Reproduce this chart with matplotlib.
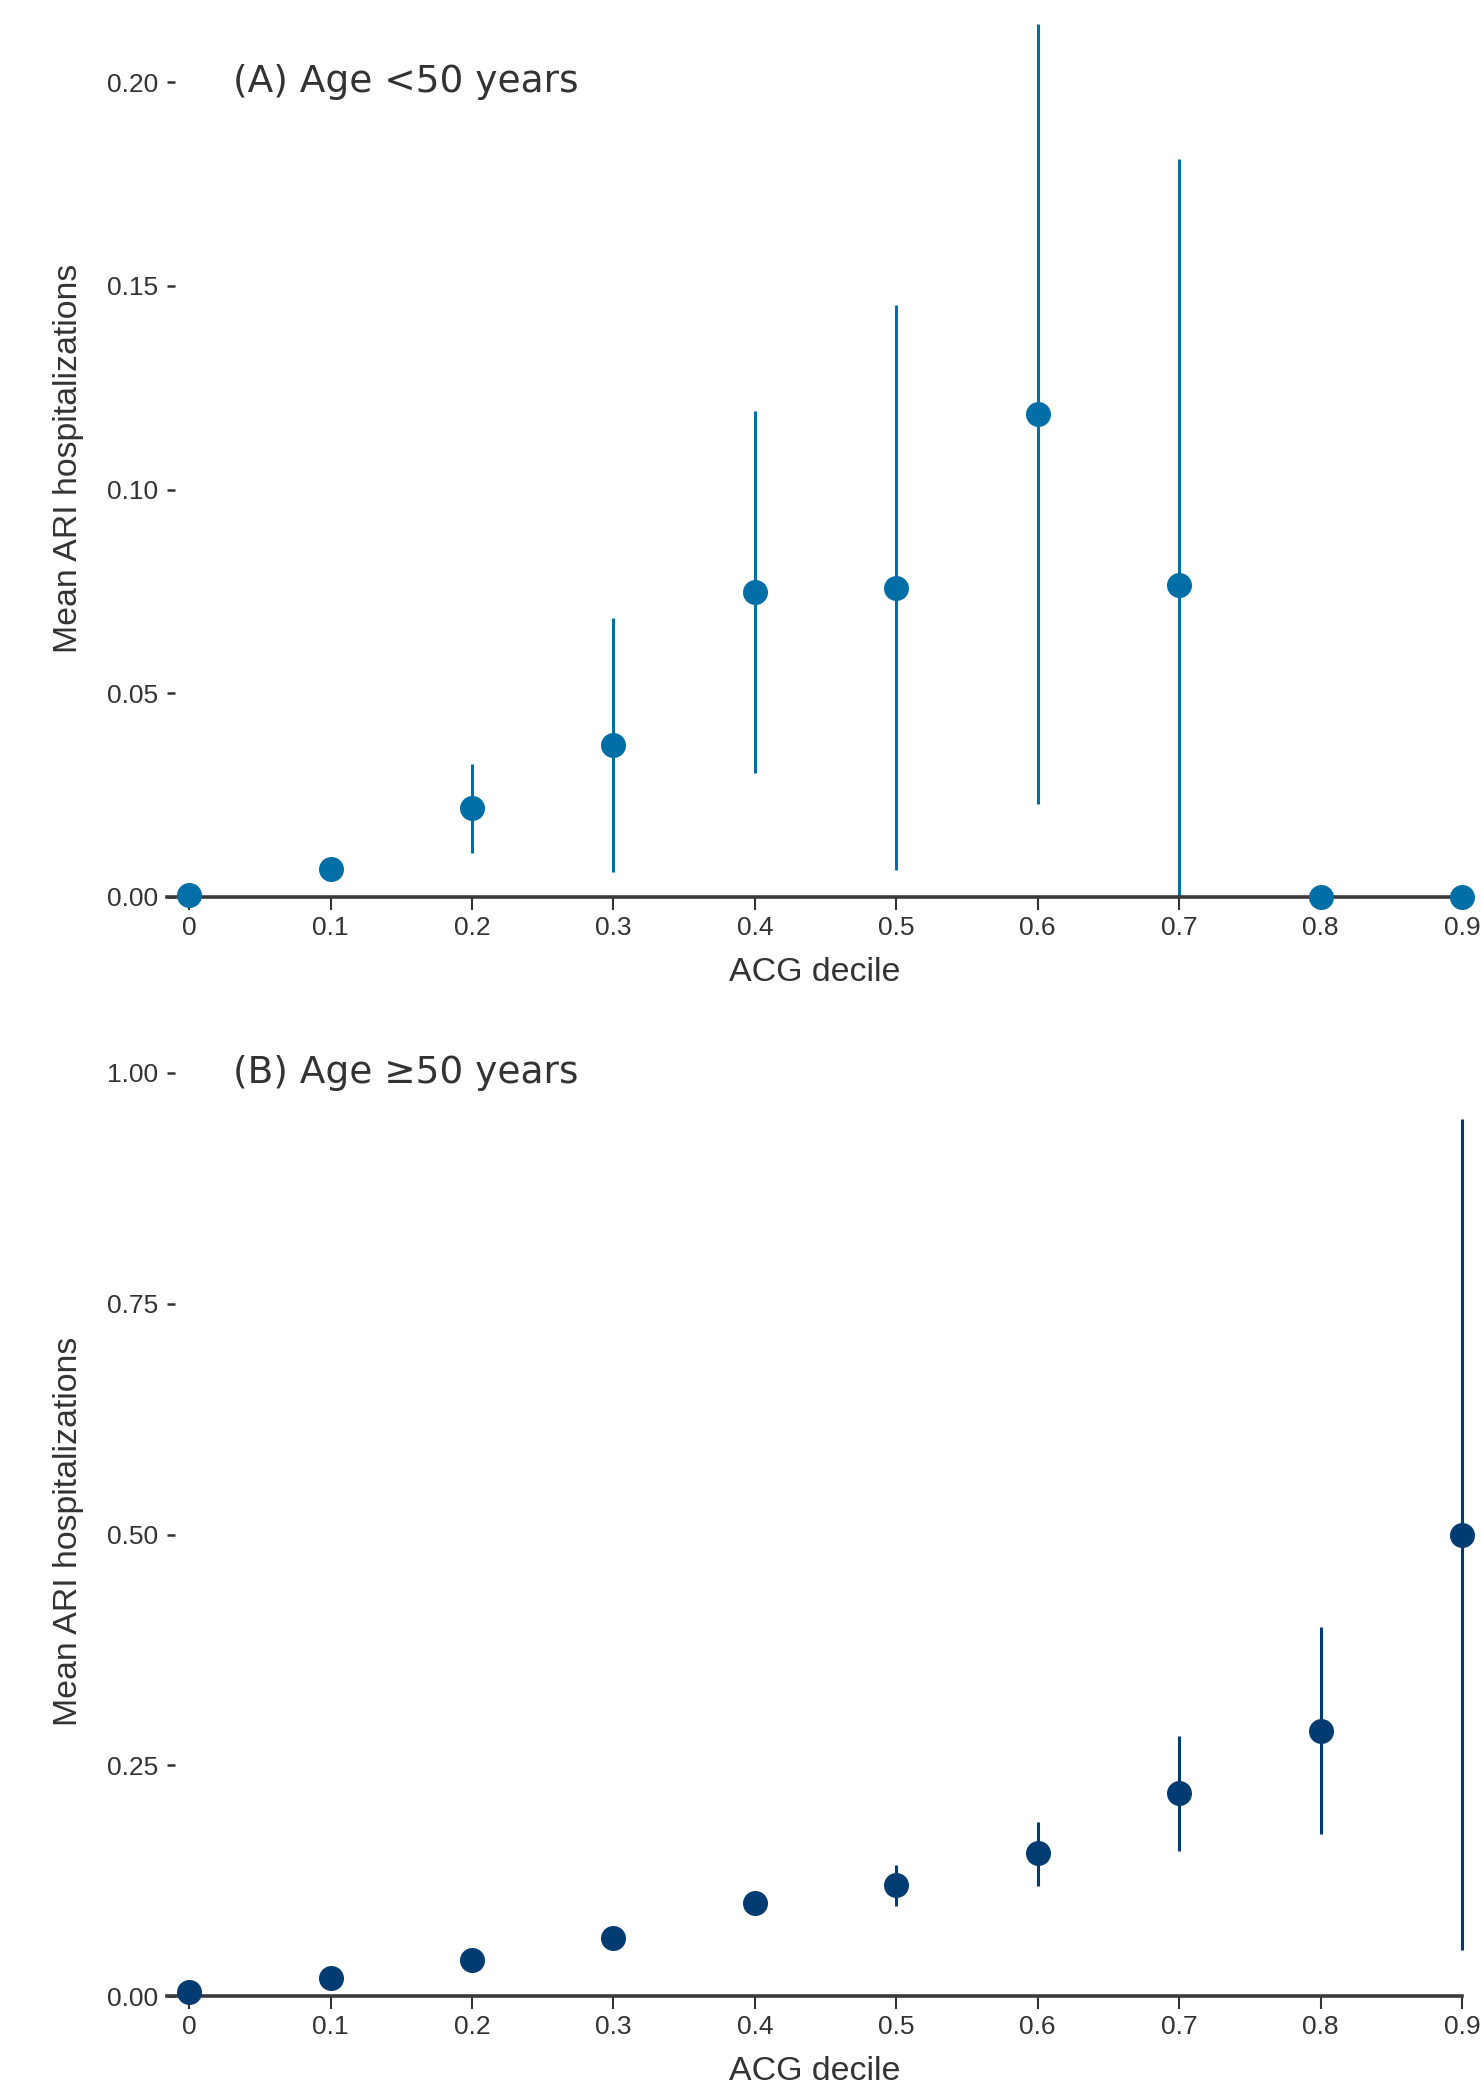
"""Mean ARI hospitalizations by ACG decile, split by age group (two stacked panels)."""
import numpy as np
import matplotlib
matplotlib.use("Agg")
import matplotlib.pyplot as plt
from matplotlib.ticker import FixedLocator, FixedFormatter

DECILES = [0.0, 0.1, 0.2, 0.3, 0.4, 0.5, 0.6, 0.7, 0.8, 0.9]
XTICK_LABELS = ["0", "0.1", "0.2", "0.3", "0.4", "0.5", "0.6", "0.7", "0.8", "0.9"]

# (A) age < 50
MEAN_A = [0.0006, 0.0069, 0.0218, 0.0373, 0.0748, 0.0759, 0.1185, 0.0767, 0.0, 0.0]
LO_A = [0.0006, 0.0069, 0.0108, 0.0061, 0.0304, 0.0066, 0.0228, 0.0, 0.0, 0.0]
HI_A = [0.0006, 0.0069, 0.0326, 0.0685, 0.1193, 0.1453, 0.2142, 0.1811, 0.0, 0.0]
YTICKS_A = [0.00, 0.05, 0.10, 0.15, 0.20]

# (B) age >= 50
MEAN_B = [0.004, 0.019, 0.039, 0.063, 0.101, 0.120, 0.155, 0.220, 0.287, 0.500]
LO_B = [0.004, 0.019, 0.039, 0.063, 0.094, 0.098, 0.119, 0.157, 0.175, 0.050]
HI_B = [0.004, 0.019, 0.039, 0.063, 0.108, 0.142, 0.189, 0.282, 0.400, 0.950]
YTICKS_B = [0.00, 0.25, 0.50, 0.75, 1.00]

COL_A = "#006FA8"
COL_B = "#003B71"
INK = "#333333"
W, H = 1481, 2086

fig = plt.figure(figsize=(W / 100, H / 100), dpi=100)
plt.rcParams["font.family"] = ["Liberation Sans", "DejaVu Sans"]


def panel(rect, mean, lo, hi, yticks, ytop, color, title):
    ax = fig.add_axes(rect)
    mean, lo, hi = map(np.asarray, (mean, lo, hi))
    ax.vlines(DECILES, lo, hi, color=color, lw=2.2, clip_on=False, zorder=2)
    ax.plot(DECILES, mean, "o", ms=18, color=color, mec="none", clip_on=False, zorder=3)
    ax.set_xlim(-0.0156, 0.9)
    ax.set_ylim(0, ytop)
    for s in ("top", "right", "left"):
        ax.spines[s].set_visible(False)
    ax.spines["bottom"].set_linewidth(2.6)
    ax.spines["bottom"].set_color("#3a3a3a")
    ax.xaxis.set_major_locator(FixedLocator(DECILES))
    ax.xaxis.set_major_formatter(FixedFormatter(XTICK_LABELS))
    ax.set_yticks(yticks)
    ax.set_yticklabels([f"{v:.2f}" for v in yticks])
    ax.tick_params(axis="x", direction="out", length=9.4, width=1.5, pad=4.5,
                   labelsize=19, colors=INK)
    ax.tick_params(axis="y", direction="in", length=5.8, width=1.8, pad=6.5,
                   labelsize=19, colors=INK)
    ax.set_xlabel("ACG decile", fontsize=24.4, color=INK, labelpad=12)
    ax.set_ylabel("Mean ARI hospitalizations", fontsize=24.4, color=INK, labelpad=16)
    ax.text(0.031, yticks[-1], title, fontsize=27, color=INK, va="center", ha="left",
            family="DejaVu Sans")
    return ax


top_a, bot_a = 19, 897
panel([167 / W, 1 - bot_a / H, (1462 - 167) / W, (bot_a - top_a) / H],
      MEAN_A, LO_A, HI_A, YTICKS_A, 0.2155, COL_A, "(A) Age <50 years")

top_b, bot_b = 1066, 1996
panel([167 / W, 1 - bot_b / H, (1462 - 167) / W, (bot_b - top_b) / H],
      MEAN_B, LO_B, HI_B, YTICKS_B, (bot_b - top_b) / (bot_b - 1073), COL_B,
      "(B) Age \u226550 years")

fig.savefig("out.png", dpi=100)
